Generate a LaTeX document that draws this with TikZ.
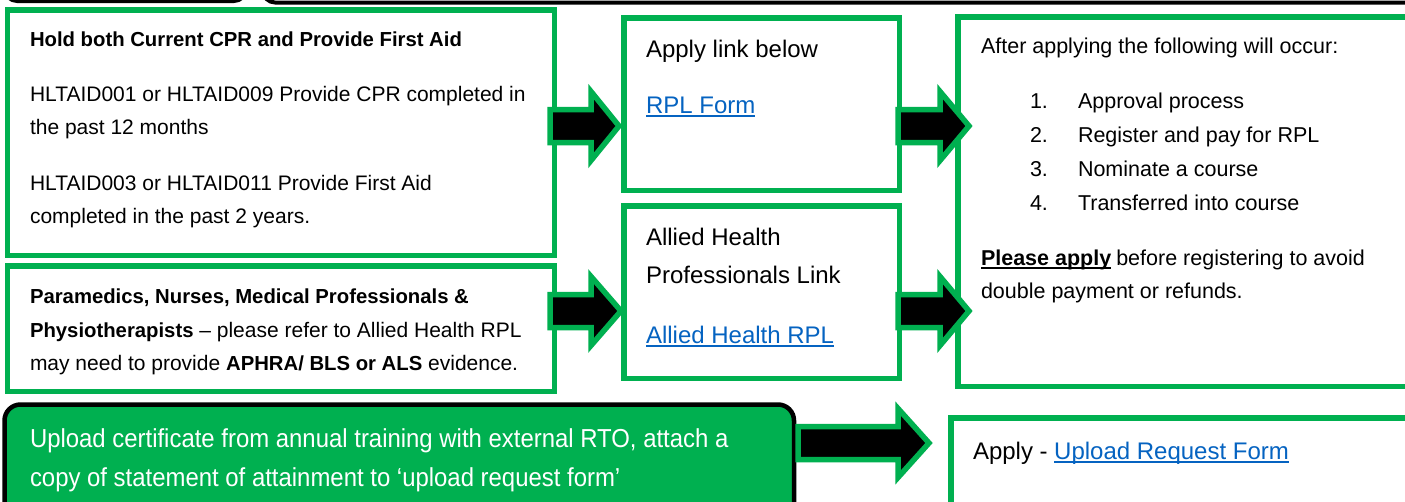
\documentclass[tikz,border=0pt]{standalone}
\usepackage{fontspec}
\setmainfont{Liberation Sans}
\newfontfamily\condfont[FakeStretch=0.92]{Liberation Sans}
\usetikzlibrary{calc}
\definecolor{ggreen}{HTML}{00B050}
\definecolor{linkblue}{HTML}{0563C1}
\newcommand{\bsm}[1]{{\fontsize{20.3}{25}\selectfont\bfseries #1}}
\newcommand{\ulnode}[2]{\draw[#2, line width=1.4pt] ([yshift=-2.8pt]#1.base west) -- ([yshift=-2.8pt]#1.base east);}
\tikzset{
  gbox/.style={draw=ggreen, line width=5.5pt, inner sep=0pt, outer sep=0pt, anchor=north west},
  topbox/.style={draw=black, line width=4pt, rounded corners=12pt, fill=white},
  gtext/.style={anchor=base west, inner sep=0pt, outer sep=0pt, text=black},
  fa/.style={gtext, font=\fontsize{21}{25}\selectfont},
  fc/.style={gtext, font=\fontsize{24}{28}\selectfont},
  fe/.style={gtext, font=\fontsize{21.5}{26}\selectfont},
  fg/.style={gtext, text=white, font=\condfont\fontsize{26}{30}\selectfont},
  lnk/.style={text=linkblue},
  barrow/.style={draw=ggreen, fill=black, line width=5.5pt, miter limit=10,
    to path={let \p1=(\tikztostart), \p2=(\tikztotarget) in
      (\x1,\y1+16.5pt) -- (\x2-#1,\y1+16.5pt) -- (\x2-#1,\y1+34.5pt) -- (\x2,\y1)
      -- (\x2-#1,\y1-34.5pt) -- (\x2-#1,\y1-16.5pt) -- (\x1,\y1-16.5pt) -- cycle}},
  barrow/.default=29pt
}
\begin{document}
\begin{tikzpicture}[x=1pt,y=-1pt]
\useasboundingbox (0,0) rectangle (1405,501);
\clip (0,0) rectangle (1405,501);
\fill[white] (0,0) rectangle (1405,501);

% partial boxes at the top edge
\draw[topbox] (5,-60) rectangle (246,1);
\node[inner sep=0pt] (T1) at (125,-30) {};
\draw[topbox] (263,-60) rectangle (1460,2.5);
\node[inner sep=0pt] (T2) at (860,-30) {};

% green boxes
\node[gbox, minimum width=547pt, minimum height=245.5pt] (A) at (7.25,9.75) {};
\node[gbox, minimum width=547pt, minimum height=125.5pt] (B) at (7.25,265.75) {};
\node[gbox, minimum width=275.5pt, minimum height=172.5pt] (C) at (623.75,17.75) {};
\node[gbox, minimum width=275.5pt, minimum height=172.5pt] (D) at (623.75,205.75) {};
\node[gbox, minimum width=480pt, minimum height=369.5pt] (E) at (957.75,16.75) {};
\node[gbox, minimum width=480pt, minimum height=120pt] (F) at (950.75,417.75) {};
\node[draw=black, line width=4.5pt, fill=ggreen, rounded corners=16pt, anchor=north west,
      inner sep=0pt, minimum width=789.5pt, minimum height=140pt] (G) at (2.25,402.25) {};

% box A text
\node[fa] (a1) at (30,46) {\bsm{Hold both Current CPR and Provide First Aid}};
\node[fa] (a2) at (30,101) {HLTAID001 or HLTAID009 Provide CPR completed in};
\node[fa] (a3) at (30,134) {the past 12 months};
\node[fa] (a4) at (30,190) {HLTAID003 or HLTAID011 Provide First Aid};
\node[fa] (a5) at (30,223) {completed in the past 2 years.};

% box B text
\node[fa] (b1) at (30,303) {\bsm{Paramedics, Nurses, Medical Professionals \&}};
\node[fa] (b2) at (30,337) {\bsm{Physiotherapists} -- please refer to Allied Health RPL};
\node[fa] (b3) at (30,370) {may need to provide \bsm{APHRA/ BLS or ALS} evidence.};

% box C text
\node[fc] (c1) at (646,57) {Apply link below};
\node[fc, lnk] (c2) at (646,113) {RPL Form};
\ulnode{c2}{linkblue}

% box D text
\node[fc] (d1) at (646,245) {Allied Health};
\node[fc] (d2) at (646,283) {Professionals Link};
\node[fc, lnk] (d3) at (646,343) {Allied Health RPL};
\ulnode{d3}{linkblue}

% box E text
\node[fe] (e0) at (981,53) {After applying the following will occur:};
\node[fe] (n1) at (1030,108) {1.};
\node[fe] (n2) at (1030,142) {2.};
\node[fe] (n3) at (1030,176) {3.};
\node[fe] (n4) at (1030,210) {4.};
\node[fe] (i1) at (1078,108) {Approval process};
\node[fe] (i2) at (1078,142) {Register and pay for RPL};
\node[fe] (i3) at (1078,176) {Nominate a course};
\node[fe] (i4) at (1078,210) {Transferred into course};
\node[fe, font=\fontsize{21.5}{26}\selectfont\bfseries] (e5a) at (981,265) {Please apply};
\ulnode{e5a}{black}
\node[fe] (e5b) at ([xshift=5pt]e5a.base east) {before registering to avoid};
\node[fe] (e6) at (981,298) {double payment or refunds.};

% box F text
\node[fc] (f1) at (973,459) {Apply -};
\node[fc, lnk] (f2) at ([xshift=6.5pt]f1.base east) {Upload Request Form};
\ulnode{f2}{linkblue}

% box G text
\node[fg] (g1) at (30,447) {Upload certificate from annual training with external RTO, attach a};
\node[fg] (g2) at (30,486) {copy of statement of attainment to ‘upload request form’};

% block arrows
\coordinate (s1) at (550,126); \coordinate (t1) at (619,126);
\coordinate (s2) at (898,126); \coordinate (t2) at (969,126);
\coordinate (s3) at (550,311); \coordinate (t3) at (621,311);
\coordinate (s4) at (898,311); \coordinate (t4) at (969,311);
\coordinate (s5) at (798,443); \coordinate (t5) at (929,443);
\draw[barrow=28pt] (s1) to (t1);
\draw[barrow=29pt] (s2) to (t2);
\draw[barrow=30pt] (s3) to (t3);
\draw[barrow=29pt] (s4) to (t4);
\draw[barrow=31pt] (s5) to (t5);
\end{tikzpicture}
\end{document}
